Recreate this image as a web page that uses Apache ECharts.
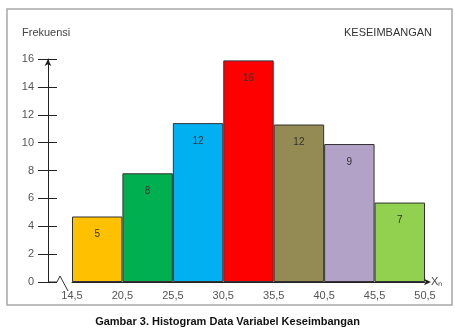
<!DOCTYPE html>
<html>
<head>
<meta charset="utf-8">
<script src="https://cdn.jsdelivr.net/npm/echarts@6/dist/echarts.min.js"></script>
<style>
  html, body { margin: 0; padding: 0; background: #fff; }
  #chart { width: 455px; height: 334px; }
</style>
</head>
<body>
<div id="chart"></div>
<script>
// class intervals (bars) and boundary tick labels
const classes = ["14,5-20,5", "20,5-25,5", "25,5-30,5", "30,5-35,5", "35,5-40,5", "40,5-45,5", "45,5-50,5"];
const boundaries = ["14,5", "20,5", "25,5", "30,5", "35,5", "40,5", "45,5", "50,5"];
// bar heights as drawn, and the numbers written inside them
const heights = [4.7, 7.8, 11.4, 15.9, 11.3, 9.9, 5.7];
const barLabels = ["5", "8", "12", "16", "12", "9", "7"];
const barColors = ["#ffc000", "#00b050", "#00b0f0", "#ff0000", "#948a54", "#b3a2c7", "#92d050"];

const font = "Liberation Sans, Arial, sans-serif";
const myChart = echarts.init(document.getElementById("chart"));

const option = {
  animation: false,
  textStyle: { fontFamily: font },
  grid: { left: 72, right: 30, top: 59, bottom: 52 },
  graphic: [
    // outer frame
    {
      type: "rect",
      shape: { x: 7, y: 9, width: 445, height: 296 },
      style: { fill: "none", stroke: "#a8a8a8", lineWidth: 1.5 }
    },
    // axis break mark at origin
    {
      type: "polyline",
      shape: { points: [[48, 282], [57, 282], [60, 276], [68, 291]] },
      style: { fill: "none", stroke: "#333", lineWidth: 1 }
    },
    {
      type: "text",
      left: 22, top: 27,
      style: { text: "Frekuensi", fontSize: 11, fill: "#444", fontFamily: font }
    },
    {
      type: "text",
      left: 344, top: 27,
      style: { text: "KESEIMBANGAN", fontSize: 11, fill: "#333", fontFamily: font }
    },
    {
      type: "text",
      left: "center", top: 316,
      style: {
        text: "Gambar 3. Histogram Data Variabel Keseimbangan",
        fontSize: 11, fontWeight: "bold", fill: "#111", fontFamily: font
      }
    }
  ],
  xAxis: [
    {
      type: "category",
      position: "top",
      show: false,
      data: classes
    },
    {
      type: "category",
      position: "bottom",
      data: boundaries,
      boundaryGap: false,
      name: "Xₙ",
      nameGap: 6,
      nameTextStyle: { fontSize: 11, color: "#444" },
      axisLine: {
        show: true,
        symbol: ["none", "arrow"],
        symbolSize: [5, 7],
        symbolOffset: [0, 6],
        lineStyle: { color: "#222", width: 1 }
      },
      axisTick: { show: false },
      axisLabel: { fontSize: 11, color: "#555", margin: 8, interval: 0 }
    }
  ],
  yAxis: [
    {
      type: "value",
      position: "left",
      offset: 24,
      min: 0,
      max: 16,
      interval: 2,
      axisLine: {
        show: true,
        symbol: ["none", "arrow"],
        symbolSize: [5, 7],
        lineStyle: { color: "#222", width: 1 }
      },
      axisTick: { show: true, length: 10, lineStyle: { color: "#222" } },
      axisLabel: { fontSize: 11, color: "#555", margin: 14 },
      splitLine: { show: false }
    },
    {
      // right half of the cross ticks, drawn on the same line
      type: "value",
      position: "right",
      offset: -377,
      min: 0,
      max: 16,
      interval: 2,
      axisLine: { show: false },
      axisTick: { show: true, inside: false, length: 9, lineStyle: { color: "#222" } },
      axisLabel: { show: false },
      splitLine: { show: false }
    }
  ],
  series: [
    {
      type: "bar",
      xAxisIndex: 0,
      yAxisIndex: 0,
      barCategoryGap: 0,
      data: heights.map((h, i) => ({
        value: h,
        itemStyle: { color: barColors[i] }
      })),
      itemStyle: { borderColor: "#333", borderWidth: 1 },
      label: {
        show: true,
        position: "insideTop",
        distance: 13,
        fontSize: 10,
        color: "#333",
        formatter: p => barLabels[p.dataIndex]
      }
    }
  ]
};

myChart.setOption(option);
window.onresize = () => {
  myChart.resize();
};
</script>
</body>
</html>
